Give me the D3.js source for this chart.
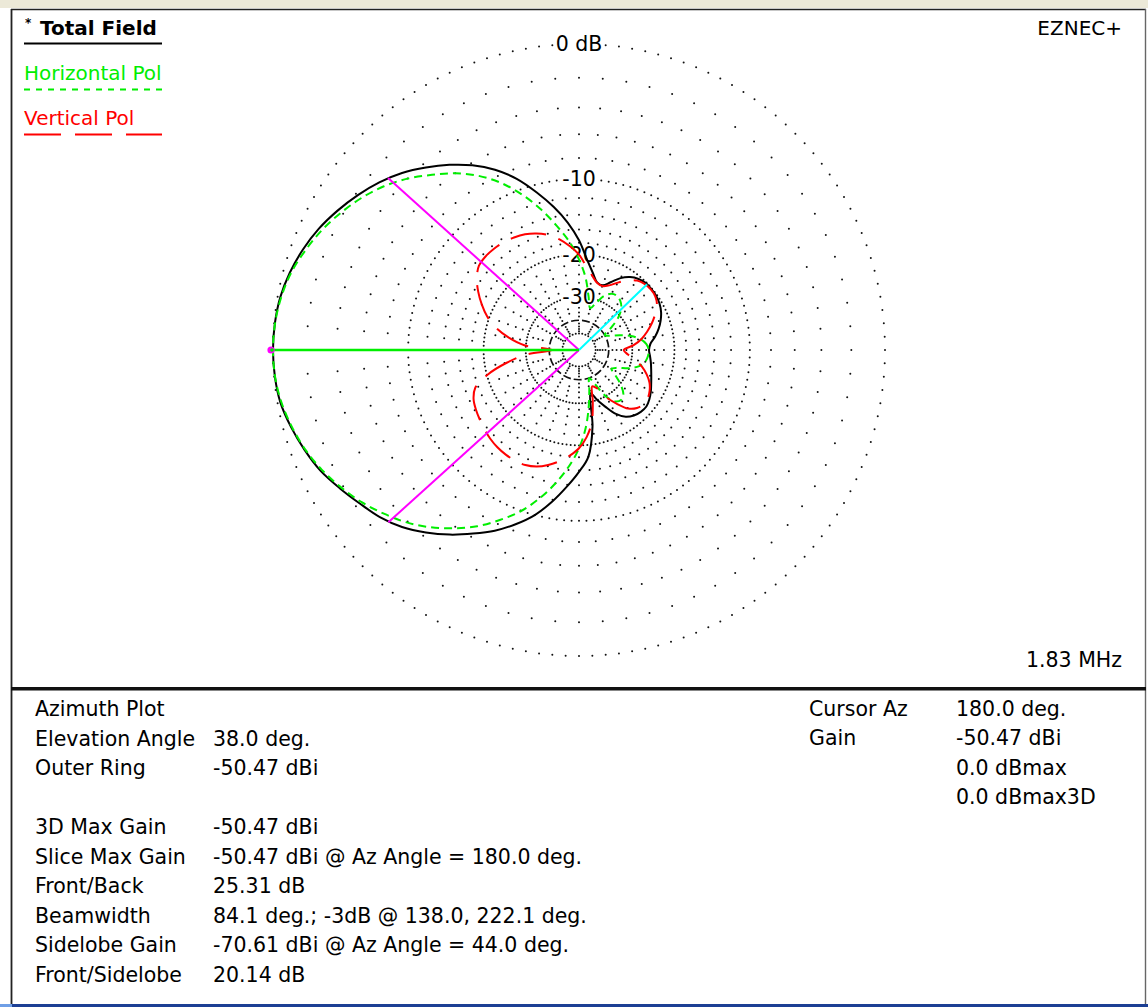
<!DOCTYPE html>
<html>
<head>
<meta charset="utf-8">
<script src="https://cdn.jsdelivr.net/npm/d3@7"></script>
<style>
  html, body { margin: 0; padding: 0; background: #fff; }
  svg { display: block; }
  text { font-family: "DejaVu Sans", "Liberation Sans", sans-serif; fill: #000; }
</style>
</head>
<body>
<svg id="chart" width="1148" height="1007"></svg>
<script>
// ---- Pattern data: azimuth (deg, CCW from +x) and gain in dB relative to the outer ring ----
const azimuths = [
  0, 5, 10, 15, 20, 25, 30, 35, 40, 45, 50, 55, 60, 65, 70, 75, 80, 85,
  90, 95, 100, 105, 110, 115, 120, 125, 130, 135, 140, 145, 150, 155, 160, 165, 170, 175,
  180, 185, 190, 195, 200, 205, 210, 215, 220, 225, 230, 235, 240, 245, 250, 255, 260, 265,
  270, 275, 280, 285, 290, 295, 300, 305, 310, 315, 320, 325, 330, 335, 340, 345, 350, 355
];

const totalField = [
  -25.31, -24.9, -23.6, -22.5, -21.6, -20.9, -20.45, -20.2, -20.15, -20.15, -20.5, -21.2, -22.4, -24.2, -25.6, -25.3, -23.3, -20.8,
  -17.6, -15.0, -12.8, -10.8, -8.9, -7.4, -6.2, -5.2, -4.3, -3.45, -2.75, -2.15, -1.6, -1.1, -0.7, -0.38, -0.15, -0.04,
  0.0, -0.04, -0.16, -0.45, -0.8, -1.2, -1.75, -2.3, -2.8, -3.45, -4.3, -5.25, -6.3, -7.35, -8.6, -10.0, -11.8, -13.8,
  -15.8, -18.0, -23.5, -33.0, -30.0, -27.2, -24.4, -22.7, -21.9, -21.5, -21.4, -21.8, -22.4, -23.1, -23.7, -24.2, -24.6, -25.0
];

const horizontalPol = [
  -25.4, -25.9, -27.3, -29.8, -33.5, -38.0, -40.0, -35.0, -30.5, -28.0, -26.8, -26.3, -26.6, -28.0, -31.0, -33.5, -29.5, -24.5,
  -20.9, -17.8, -15.3, -12.8, -10.6, -8.7, -7.2, -6.0, -5.0, -4.0, -3.15, -2.45, -1.85, -1.3, -0.85, -0.45, -0.2, -0.05,
  0.0, -0.05, -0.22, -0.5, -0.85, -1.3, -1.85, -2.45, -3.15, -3.9, -4.8, -5.85, -7.0, -8.4, -9.9, -11.8, -14.0, -16.5,
  -19.5, -23.5, -29.0, -35.0, -40.0, -36.0, -30.0, -27.2, -26.5, -27.2, -29.5, -33.0, -36.0, -34.0, -30.0, -27.3, -26.0, -25.5
];

const verticalPol = [
  -33.0, -29.5, -27.0, -25.2, -23.6, -22.2, -21.0, -20.4, -20.25, -20.4, -20.9, -22.0, -23.5, -25.0, -25.8, -25.4, -24.0, -22.2,
  -20.0, -18.5, -17.2, -16.2, -15.5, -15.0, -14.7, -14.5, -14.4, -14.4, -14.6, -15.4, -16.6, -18.0, -19.6, -21.8, -25.0, -29.5,
  -42.0, -30.0, -24.5, -20.2, -17.5, -16.6, -16.2, -15.9, -15.6, -15.3, -15.1, -15.0, -15.0, -15.1, -15.5, -16.2, -17.1, -18.2,
  -19.5, -21.5, -24.5, -30.0, -35.5, -34.0, -29.5, -26.5, -23.8, -22.6, -22.1, -22.2, -22.7, -23.5, -24.8, -26.5, -28.8, -31.5
];

// ---- Grid and markers ----
const dottedRings = [0, -10, -20, -30, -50];
const dashedRing = -40;
const ringLabelLevels = [0, -10, -20, -30];
const ringLabelTexts = ["0 dB", "-10", "-20", "-30"];
const spokeStepDeg = 5;
const spokeLevelStep = 2;

const cursorAz = 180.0;
const cursorGain = 0.0;
const beamEdgeAz = [138.0, 222.1];
const beamEdgeGain = -3.0;
const sidelobeAz = 44.0;
const sidelobeGain = -20.14;

// ---- Legend and text panel ----
const legendTitle = "Total Field";
const legendNames = ["Horizontal Pol", "Vertical Pol"];
const programName = "EZNEC+";
const frequencyText = "1.83 MHz";

const infoLabels = ["Azimuth Plot", "Elevation Angle", "Outer Ring", "", "3D Max Gain", "Slice Max Gain",
  "Front/Back", "Beamwidth", "Sidelobe Gain", "Front/Sidelobe"];
const infoValues = ["", "38.0 deg.", "-50.47 dBi", "", "-50.47 dBi", "-50.47 dBi @ Az Angle = 180.0 deg.",
  "25.31 dB", "84.1 deg.; -3dB @ 138.0, 222.1 deg.", "-70.61 dBi @ Az Angle = 44.0 deg.", "20.14 dB"];
const cursorLabels = ["Cursor Az", "Gain", "", ""];
const cursorValues = ["180.0 deg.", "-50.47 dBi", "0.0 dBmax", "0.0 dBmax3D"];

// ---- Layout ----
const W = 1148, H = 1007;
const cx = 579, cy = 350, R = 306;
const FONT = 20.5;
const colors = { total: "#000000", hpol: "#00ee00", vpol: "#ff0000", beam: "#ff00ff", side: "#00ffff", cursor: "#00ee00" };

const svg = d3.select("#chart");

// ARRL-style log scale: each 2 dB step shrinks the radius by 0.89
const rMin = R * Math.pow(0.89, 25);
const gainScale = d3.scaleLog().domain([rMin, R]).range([-50, 0]);
const radius = dB => gainScale.invert(dB);
const toRad = a => a * Math.PI / 180;
const polar = (az, dB) => [cx + radius(dB) * Math.cos(toRad(az)), cy - radius(dB) * Math.sin(toRad(az))];

// ---- Window frame ----
svg.append("rect").attr("x", 0).attr("y", 0).attr("width", W).attr("height", H).attr("fill", "#fff");
svg.append("rect").attr("x", 0).attr("y", 0).attr("width", W).attr("height", 8).attr("fill", "#ECE9D8");
svg.append("line").attr("x1", 11).attr("x2", 1146).attr("y1", 9.5).attr("y2", 9.5).attr("stroke", "#222").attr("stroke-width", 1.6);
svg.append("line").attr("x1", 11.5).attr("x2", 11.5).attr("y1", 9).attr("y2", 1004).attr("stroke", "#222").attr("stroke-width", 1.8);
svg.append("line").attr("x1", 1145.5).attr("x2", 1145.5).attr("y1", 9).attr("y2", 1004).attr("stroke", "#666").attr("stroke-width", 1.4);
svg.append("rect").attr("x", 11).attr("y", 687).attr("width", 1135).attr("height", 3.5).attr("fill", "#111");
svg.append("rect").attr("x", 0).attr("y", 1004).attr("width", W).attr("height", 3).attr("fill", "#1c3f94");
svg.append("rect").attr("x", 0).attr("y", 1004).attr("width", 12).attr("height", 3).attr("fill", "#6f9fe6");

// ---- Grid ----
const grid = svg.append("g");

// dotted rings
dottedRings.forEach(lv => {
  const r = radius(lv);
  const n = Math.min(144, Math.floor(2 * Math.PI * r / 3.2));
  grid.selectAll(null).data(d3.range(n)).enter().append("circle")
    .attr("cx", i => cx + r * Math.cos(2 * Math.PI * i / n))
    .attr("cy", i => cy - r * Math.sin(2 * Math.PI * i / n))
    .attr("r", 1.0).attr("fill", "#111");
});

// dashed ring
grid.append("circle").attr("cx", cx).attr("cy", cy).attr("r", radius(dashedRing))
  .attr("fill", "none").attr("stroke", "#111").attr("stroke-width", 1.7).attr("stroke-dasharray", "8,3");

// spoke dots every 2 dB, angular spacing thinned toward the centre
const spokeLevels = d3.range(-spokeLevelStep, -50, -spokeLevelStep).filter(d => d % 10 !== 0);
const stepChoices = [5, 10, 15, 30, 45, 90];
spokeLevels.forEach(lv => {
  const r = radius(lv);
  const step = stepChoices.find(s => r * toRad(s) >= 9) || 90;
  const angs = d3.range(0, 360, Math.max(step, spokeStepDeg));
  grid.selectAll(null).data(angs).enter().append("circle")
    .attr("cx", a => cx + r * Math.cos(toRad(a)))
    .attr("cy", a => cy - r * Math.sin(toRad(a)))
    .attr("r", 1.0).attr("fill", "#111");
});

// ring labels with knocked-out background
ringLabelLevels.forEach((lv, i) => {
  const y = cy - radius(lv);
  const lg = svg.append("g");
  const t = lg.append("text").attr("x", cx).attr("y", y).attr("text-anchor", "middle")
    .attr("dominant-baseline", "central").attr("font-size", FONT).text(ringLabelTexts[i]);
  const bb = t.node().getBBox();
  lg.insert("rect", "text").attr("x", bb.x - 1).attr("y", bb.y + 2).attr("width", bb.width + 2)
    .attr("height", bb.height - 4).attr("fill", "#fff");
});

// ---- Pattern traces ----
const plot = svg.append("g").attr("transform", `translate(${cx},${cy})`);
const radial = d3.lineRadial()
  .angle(d => toRad(90 - d.az))
  .radius(d => radius(d.g))
  .curve(d3.curveCatmullRomClosed.alpha(0.5));

const series = [
  { vals: totalField, color: colors.total, dash: null },
  { vals: horizontalPol, color: colors.hpol, dash: "8,5" },
  { vals: verticalPol, color: colors.vpol, dash: "36,13" }
];
series.forEach(s => {
  const pts = azimuths.map((az, i) => ({ az, g: s.vals[i] }));
  plot.append("path").attr("d", radial(pts)).attr("fill", "none")
    .attr("stroke", s.color).attr("stroke-width", 2)
    .attr("stroke-dasharray", s.dash);
});

// ---- Beamwidth, sidelobe and cursor lines ----
beamEdgeAz.forEach(az => {
  const [x, y] = polar(az, beamEdgeGain);
  svg.append("line").attr("x1", cx).attr("y1", cy).attr("x2", x).attr("y2", y)
    .attr("stroke", colors.beam).attr("stroke-width", 2);
});
{
  const [x, y] = polar(sidelobeAz, sidelobeGain);
  svg.append("line").attr("x1", cx).attr("y1", cy).attr("x2", x).attr("y2", y)
    .attr("stroke", colors.side).attr("stroke-width", 2);
}
{
  const [x, y] = polar(cursorAz, cursorGain);
  svg.append("line").attr("x1", cx).attr("y1", cy).attr("x2", x).attr("y2", y)
    .attr("stroke", colors.cursor).attr("stroke-width", 2.5);
  svg.append("circle").attr("cx", x - 2).attr("cy", y).attr("r", 3.6).attr("fill", colors.beam);
  svg.append("circle").attr("cx", x - 1).attr("cy", y).attr("r", 1.8).attr("fill", colors.cursor);
}

// ---- Legend ----
const legend = svg.append("g");
legend.append("text").attr("x", 25).attr("y", 27).attr("font-size", 12).attr("font-weight", "bold").text("*");
legend.append("text").attr("x", 40).attr("y", 35).attr("font-size", 20).attr("font-weight", "bold").text(legendTitle);
legend.append("line").attr("x1", 24).attr("x2", 162).attr("y1", 43.5).attr("y2", 43.5)
  .attr("stroke", colors.total).attr("stroke-width", 2);
legend.append("text").attr("x", 24).attr("y", 80).attr("font-size", 20).style("fill", colors.hpol).text(legendNames[0]);
legend.append("line").attr("x1", 24).attr("x2", 162).attr("y1", 89.5).attr("y2", 89.5)
  .attr("stroke", colors.hpol).attr("stroke-width", 2).attr("stroke-dasharray", "6,6");
legend.append("text").attr("x", 24).attr("y", 124.5).attr("font-size", 20).style("fill", colors.vpol).text(legendNames[1]);
legend.append("line").attr("x1", 24).attr("x2", 162).attr("y1", 134.5).attr("y2", 134.5)
  .attr("stroke", colors.vpol).attr("stroke-width", 2).attr("stroke-dasharray", "37,14");

svg.append("text").attr("x", 1122).attr("y", 35).attr("text-anchor", "end").attr("font-size", 20).text(programName);
svg.append("text").attr("x", 1122).attr("y", 667).attr("text-anchor", "end").attr("font-size", FONT).text(frequencyText);

// ---- Text panel ----
const info = svg.append("g").attr("font-size", FONT);
infoLabels.forEach((t, i) => {
  if (t) info.append("text").attr("x", 35).attr("y", 716 + i * 29.5).text(t);
});
infoValues.forEach((t, i) => {
  if (t) info.append("text").attr("x", 213).attr("y", 716 + i * 29.5).text(t);
});
cursorLabels.forEach((t, i) => {
  if (t) info.append("text").attr("x", 809).attr("y", 716 + i * 29.4).text(t);
});
cursorValues.forEach((t, i) => {
  if (t) info.append("text").attr("x", 956).attr("y", 716 + i * 29.4).text(t);
});
</script>
</body>
</html>
